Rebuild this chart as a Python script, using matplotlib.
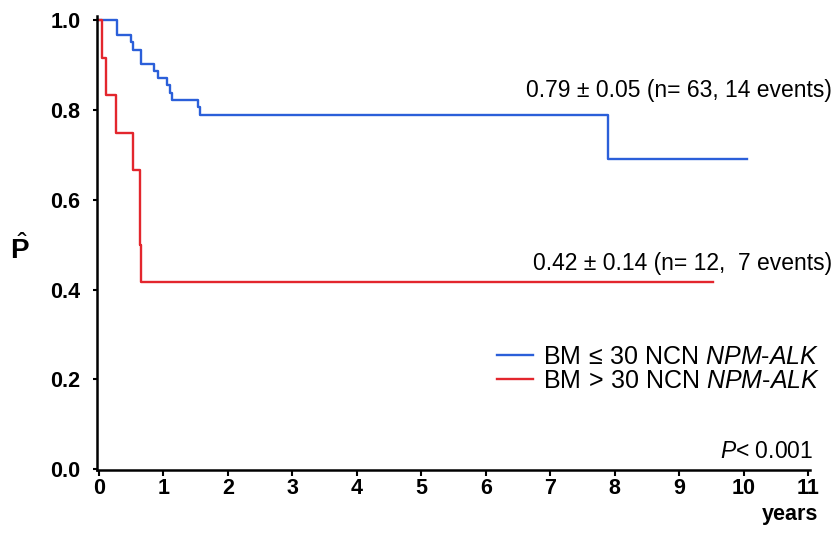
import matplotlib.pyplot as plt
import numpy as np

# Kaplan-Meier steps (years, probability)
blue_t = [0, 0.28, 0.49, 0.53, 0.65, 0.85, 0.91, 1.06, 1.10, 1.13, 1.54, 1.57, 7.9, 10.05]
blue_p = [1.0, 0.967, 0.951, 0.935, 0.903, 0.887, 0.871, 0.855, 0.839, 0.823, 0.806, 0.79, 0.69, 0.69]

red_t = [0, 0.05, 0.11, 0.27, 0.53, 0.63, 0.66, 9.53]
red_p = [1.0, 0.917, 0.833, 0.75, 0.667, 0.5, 0.417, 0.417]

x_ticks = list(range(0, 12))
y_ticks = [0.0, 0.2, 0.4, 0.6, 0.8, 1.0]

blue_col = '#2b5fd9'
red_col = '#e3262d'

plt.rcParams['font.family'] = ['Liberation Sans', 'DejaVu Sans']
plt.rcParams['mathtext.fontset'] = 'custom'
plt.rcParams['mathtext.rm'] = 'Liberation Sans'
plt.rcParams['mathtext.it'] = 'Liberation Sans:italic'
plt.rcParams['mathtext.bf'] = 'Liberation Sans:bold'

W, H = 837, 535
fig = plt.figure(figsize=(W / 100, H / 100), dpi=100)
ax = fig.add_axes([97 / W, 0.1217, 713 / W, 0.8486])

ax.step(blue_t, blue_p, where='post', color=blue_col, lw=1.7,
        label=r'BM$\,\leq\,$30 NCN $\mathit{NPM}$-$\mathit{ALK}$')
ax.step(red_t, red_p, where='post', color=red_col, lw=1.7,
        label=r'BM$\,>\,$30 NCN $\mathit{NPM}$-$\mathit{ALK}$')

ax.set_xlim(-0.03, 11.03)
ax.set_ylim(-0.002, 1.01)
ax.set_xticks(x_ticks)
ax.set_yticks(y_ticks)
ax.set_yticklabels(['%.1f' % v for v in y_ticks])
for lab in ax.get_xticklabels() + ax.get_yticklabels():
    lab.set_fontweight('bold')
    lab.set_fontsize(15.5)
ax.tick_params(axis='x', direction='out', length=4, width=1.5, pad=1.5)
ax.tick_params(axis='y', direction='out', length=3, width=1.5, pad=9)

for s in ['top', 'right']:
    ax.spines[s].set_visible(False)
for s in ['left', 'bottom']:
    ax.spines[s].set_linewidth(1.8)

def px(x, y):
    return x / W, 1 - y / H

fig.text(*px(20, 250), r'$\hat{\mathbf{P}}$', fontsize=20, ha='center', va='center')
fig.text(*px(818, 520), 'years', fontsize=15.5, fontweight='bold', ha='right', va='baseline')

fig.text(*px(832, 97), '0.79 ± 0.05 (n= 63, 14 events)', fontsize=16.5, ha='right', va='baseline')
fig.text(*px(832, 270), '0.42 ± 0.14 (n= 12,  7 events)', fontsize=16.5, ha='right', va='baseline')
fig.text(*px(813, 458), r'$\mathit{P}$< 0.001', fontsize=16.5, ha='right', va='baseline')

ax.legend(loc='center left', bbox_to_anchor=px(497, 369), bbox_transform=fig.transFigure,
          frameon=False, fontsize=18, handlelength=1.45, handletextpad=0.4,
          labelspacing=0.0, borderpad=0, borderaxespad=0)

plt.savefig('out.png', dpi=100)
